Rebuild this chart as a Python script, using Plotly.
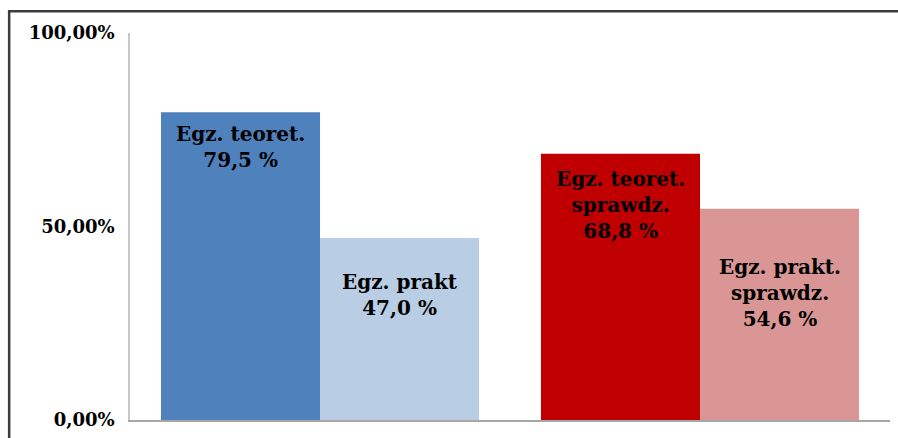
import plotly.graph_objects as go

# Exam pass rates (%)
groups = ["Egzamin", "Sprawdzian"]
theory_values = [79.5, 68.8]
practice_values = [47.0, 54.6]
theory_names = ["Egz. teoret.", "Egz. teoret.<br>sprawdz."]
practice_names = ["Egz. prakt", "Egz. prakt.<br>sprawdz."]
theory_colors = ["#4F81BD", "#C00000"]
practice_colors = ["#B9CDE5", "#D99694"]

tick_vals = [0, 50, 100]
tick_text = ["0,00%", "50,00%", "100,00%"]

# label placement: pixel offsets below each bar top
theory_label_shift = [-35, -51]
practice_label_shift = [-57, -84]
bar_half_px = 79.5

serif = "DejaVu Serif"

fig = go.Figure()
fig.add_trace(go.Bar(x=groups, y=theory_values, marker=dict(color=theory_colors, line_width=0),
                     hoverinfo="skip"))
fig.add_trace(go.Bar(x=groups, y=practice_values, marker=dict(color=practice_colors, line_width=0),
                     hoverinfo="skip"))


def fmt(v):
    return f"{v:.1f}".replace(".", ",") + " %"


def bold(s):
    return "<br>".join(f"<b>{part}</b>" for part in s.split("<br>"))


for g, v, name, sh in zip(groups, theory_values, theory_names, theory_label_shift):
    fig.add_annotation(x=g, y=v, xref="x", yref="y", text=bold(f"{name}<br>{fmt(v)}"),
                       showarrow=False, xshift=-bar_half_px, yshift=sh, yanchor="middle",
                       font=dict(family=serif, size=20, color="#000000"))
for g, v, name, sh in zip(groups, practice_values, practice_names, practice_label_shift):
    fig.add_annotation(x=g, y=v, xref="x", yref="y", text=bold(f"{name}<br>{fmt(v)}"),
                       showarrow=False, xshift=bar_half_px, yshift=sh, yanchor="middle",
                       font=dict(family=serif, size=20, color="#000000"))

# outer frame (left and top edges)
fig.add_shape(type="path", xref="paper", yref="paper",
              path="M -0.159 -0.05 L -0.159 1.0563 L 1.02 1.0563",
              line=dict(color="#3C3C3C", width=2.5))

fig.update_layout(
    width=898, height=438,
    margin=dict(l=130, r=8, t=33, b=14),
    paper_bgcolor="white", plot_bgcolor="white",
    font=dict(family=serif),
    barmode="group", bargap=0.163, bargroupgap=0,
    showlegend=False,
    xaxis=dict(showticklabels=False, showgrid=False, zeroline=False, ticks="",
               showline=True, linecolor="#A6A6A6", linewidth=1.5),
    yaxis=dict(range=[0, 100], tickvals=tick_vals, ticktext=[f"<b>{t}</b>" for t in tick_text],
               showgrid=False, zeroline=False, ticks="", ticklabelstandoff=10,
               showline=True, linecolor="#C8C8C8", linewidth=1.5,
               tickfont=dict(family=serif, size=18, color="#000000")),
)

fig.write_html("out.html")
